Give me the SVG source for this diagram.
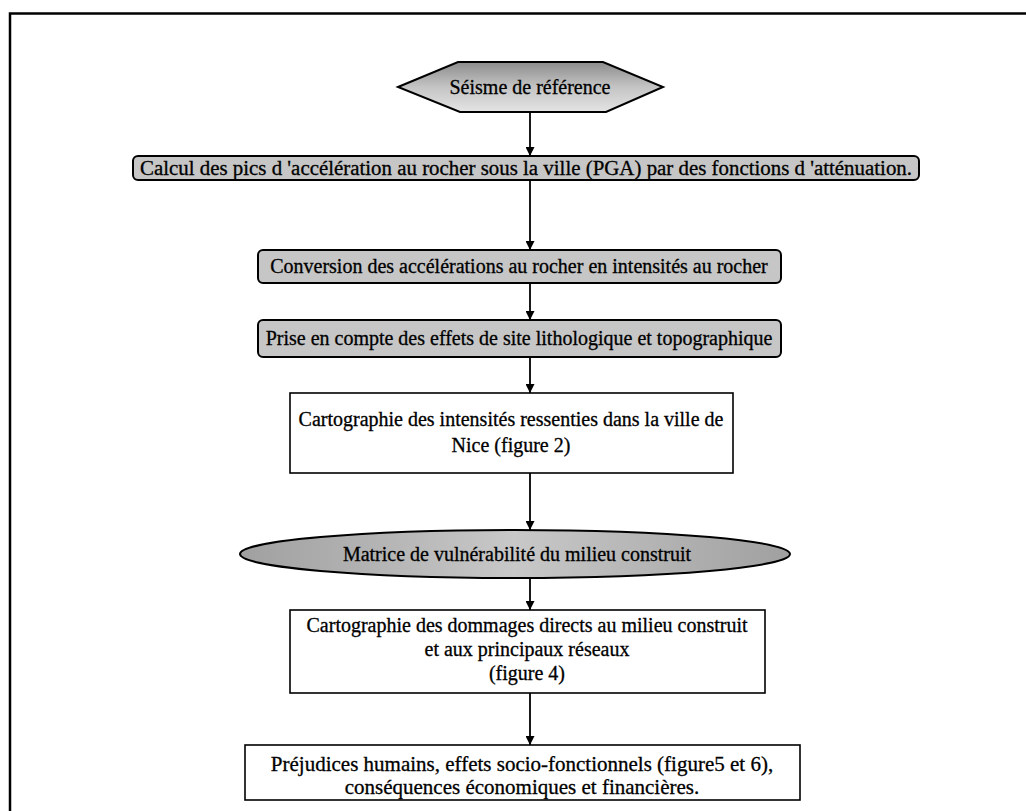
<svg xmlns="http://www.w3.org/2000/svg" width="1026" height="811" viewBox="0 0 1026 811">
<defs>
<linearGradient id="gHex" x1="0" y1="0" x2="0" y2="1">
<stop offset="0" stop-color="#8c8c8c"/>
<stop offset="0.5" stop-color="#c4c4c4"/>
<stop offset="1" stop-color="#e4e4e4"/>
</linearGradient>
<linearGradient id="gEll" x1="0" y1="0" x2="1" y2="0">
<stop offset="0" stop-color="#a0a0a0"/>
<stop offset="0.5" stop-color="#c8c8c8"/>
<stop offset="1" stop-color="#a0a0a0"/>
</linearGradient>
<marker id="arr" viewBox="0 0 10 10" refX="10" refY="5" markerWidth="9" markerHeight="9" markerUnits="userSpaceOnUse" orient="auto">
<path d="M0,0 L10,5 L0,10 z" fill="#000"/>
</marker>
<style>
text{font-family:"Liberation Serif","Times New Roman",serif;fill:#000;text-anchor:middle;font-size:20px;stroke:#000;stroke-width:0.3}
.g{fill:#c6c6c6;stroke:#000;stroke-width:2}
.w{fill:#fff;stroke:#000;stroke-width:1.6}
.c{stroke:#000;stroke-width:1.8;fill:none;marker-end:url(#arr)}
.f{stroke:#000;stroke-width:2.5;fill:none}
</style>
</defs>
<rect width="1026" height="811" fill="#fff"/>
<g id="frame">
<path class="f" d="M10,811 L10,13.5 L1026,13.5"/>
</g>
<g id="connectors">
<line class="c" x1="530" y1="112" x2="530" y2="156"/>
<line class="c" x1="530" y1="180" x2="530" y2="250"/>
<line class="c" x1="530" y1="283" x2="530" y2="320"/>
<line class="c" x1="530" y1="357" x2="530" y2="393"/>
<line class="c" x1="530" y1="473" x2="530" y2="530"/>
<line class="c" x1="530" y1="578" x2="530" y2="610"/>
<line class="c" x1="530" y1="693" x2="530" y2="745"/>
</g>
<g id="n0">
<polygon points="398,87 458,62 603,62 663,87 606,112 460,112" fill="url(#gHex)" stroke="#000" stroke-width="2"/>
<text x="530" y="94">Séisme de référence</text>
</g>
<g id="n1">
<rect class="g" x="133" y="156" width="786" height="24" rx="5"/>
<text x="526" y="175" textLength="772" lengthAdjust="spacingAndGlyphs">Calcul des pics d 'accélération au rocher sous la ville (PGA) par des fonctions d 'atténuation.</text>
</g>
<g id="n2">
<rect class="g" x="258" y="250" width="523" height="33" rx="5"/>
<text x="519" y="273">Conversion des accélérations au rocher en intensités au rocher</text>
</g>
<g id="n3">
<rect class="g" x="258" y="320" width="523" height="37" rx="5"/>
<text x="519" y="345">Prise en compte des effets de site lithologique et topographique</text>
</g>
<g id="n4">
<rect class="w" x="290" y="393" width="443" height="80"/>
<text x="511" y="426">Cartographie des intensités ressenties dans la ville de</text>
<text x="511" y="452">Nice (figure 2)</text>
</g>
<g id="n5">
<ellipse cx="515" cy="554" rx="275" ry="24" fill="url(#gEll)" stroke="#000" stroke-width="2"/>
<text x="517" y="561">Matrice de vulnérabilité du milieu construit</text>
</g>
<g id="n6">
<rect class="w" x="290" y="610" width="475" height="83"/>
<text x="527" y="632">Cartographie des dommages directs au milieu construit</text>
<text x="527" y="656">et aux principaux réseaux</text>
<text x="527" y="680">(figure 4)</text>
</g>
<g id="n7">
<rect class="w" x="245" y="745" width="555" height="55"/>
<text x="522" y="771" style="font-size:21px">Préjudices humains, effets socio-fonctionnels (figure5 et 6),</text>
<text x="522" y="794" style="font-size:21px">conséquences économiques et financières.</text>
</g>
</svg>
